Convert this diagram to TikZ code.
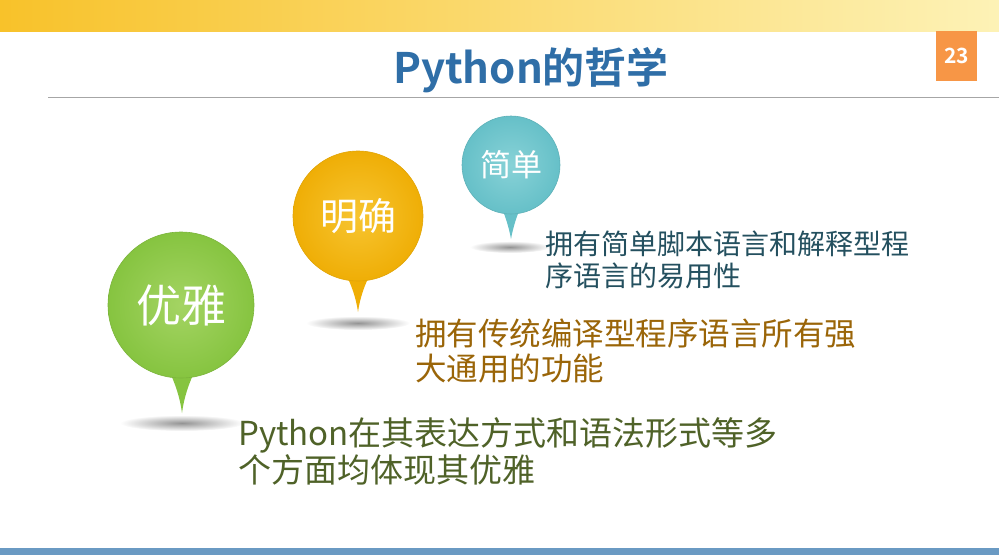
\documentclass[tikz,border=0pt]{standalone}
\usepackage{fontspec}
\setmainfont{Noto Sans CJK SC}[BoldFont={Noto Sans CJK SC Bold}]
\definecolor{bandL}{HTML}{F8C22A}
\definecolor{bandR}{HTML}{FDF2B6}
\definecolor{titleblue}{HTML}{2F6EA7}
\definecolor{pageorange}{HTML}{F79646}
\definecolor{rulegray}{HTML}{A6A6A6}
\definecolor{barblue}{HTML}{6A9AC3}
\definecolor{greenL}{HTML}{A4D463}
\definecolor{greenB}{HTML}{86C440}
\definecolor{orangeL}{HTML}{F7C531}
\definecolor{orangeB}{HTML}{EFAE06}
\definecolor{tealL}{HTML}{88D2D7}
\definecolor{tealB}{HTML}{66C0C8}
\definecolor{tealtext}{HTML}{24505F}
\definecolor{orangetext}{HTML}{9A6508}
\definecolor{olivetext}{HTML}{4F6228}
\tikzset{
  bubble/.style={circle, inner sep=0pt, text=white},
  shadowfill/.style={inner color=black!42, outer color=white},
  linetext/.style={anchor=base west, inner sep=0pt},
}
\begin{document}
\begin{tikzpicture}[x=1pt,y=-1pt]
\useasboundingbox (0,0) rectangle (999,555);
% top band
\shade[left color=bandL, right color=bandR] (0,0) rectangle (999,31);
% page number
\fill[pageorange] (936,31) rectangle (977,81);
\node[text=white, font=\bfseries\fontsize{21}{24}\selectfont, inner sep=0pt] (page) at (956.5,56) {23};
% title
\node[text=titleblue, font=\bfseries\fontsize{42}{48}\selectfont, inner sep=0pt, anchor=base] (title) at (531,83) {Python的哲学};
% rule
\draw[rulegray, line width=1pt] (48,97) -- (999,97);
% bottom bar
\fill[barblue] (0,548) rectangle (999,555);

% shadows
\shade[shadowfill] (182,423) ellipse (62 and 8);
\shade[shadowfill] (358,323) ellipse (52 and 7);
\shade[shadowfill] (510,247) ellipse (40 and 6);

% tails
\fill[greenB] (167,366) .. controls (176,385) and (180,398) .. (182,413) .. controls (184,398) and (188,385) .. (197,366) -- cycle;
\fill[orangeB] (344,270) .. controls (352,286) and (356,298) .. (358,312) .. controls (360,298) and (364,286) .. (372,270) -- cycle;
\fill[tealB] (501,206) .. controls (506,218) and (509,228) .. (511,239) .. controls (513,228) and (516,218) .. (521,206) -- cycle;

% bubbles
\node[bubble, minimum size=146pt, inner color=greenL, outer color=greenB, draw=greenB!92!black, line width=0.6pt, font=\fontsize{45}{50}\selectfont] (youya) at (181,305) {优雅};
\node[bubble, minimum size=130pt, inner color=orangeL, outer color=orangeB, draw=orangeB!94!black, line width=0.6pt, font=\fontsize{38}{44}\selectfont] (mingque) at (358,216) {明确};
\node[bubble, minimum size=98pt, inner color=tealL, outer color=tealB, draw=tealB!92!black, line width=0.6pt, font=\fontsize{31}{36}\selectfont] (jiandan) at (511,165) {简单};

% texts
\node[linetext, text=tealtext, font=\fontsize{28}{32}\selectfont] (t1a) at (545,254) {拥有简单脚本语言和解释型程};
\node[linetext, text=tealtext, font=\fontsize{28}{32}\selectfont] (t1b) at (545,286) {序语言的易用性};
\node[linetext, text=orangetext, font=\fontsize{31.5}{35}\selectfont] (t2a) at (415,345) {拥有传统编译型程序语言所有强};
\node[linetext, text=orangetext, font=\fontsize{31.5}{35}\selectfont] (t2b) at (415,380) {大通用的功能};
\node[linetext, text=olivetext, font=\fontsize{33}{37}\selectfont] (t3a) at (238,445) {Python在其表达方式和语法形式等多};
\node[linetext, text=olivetext, font=\fontsize{33}{37}\selectfont] (t3b) at (238,482) {个方面均体现其优雅};
\end{tikzpicture}
\end{document}
